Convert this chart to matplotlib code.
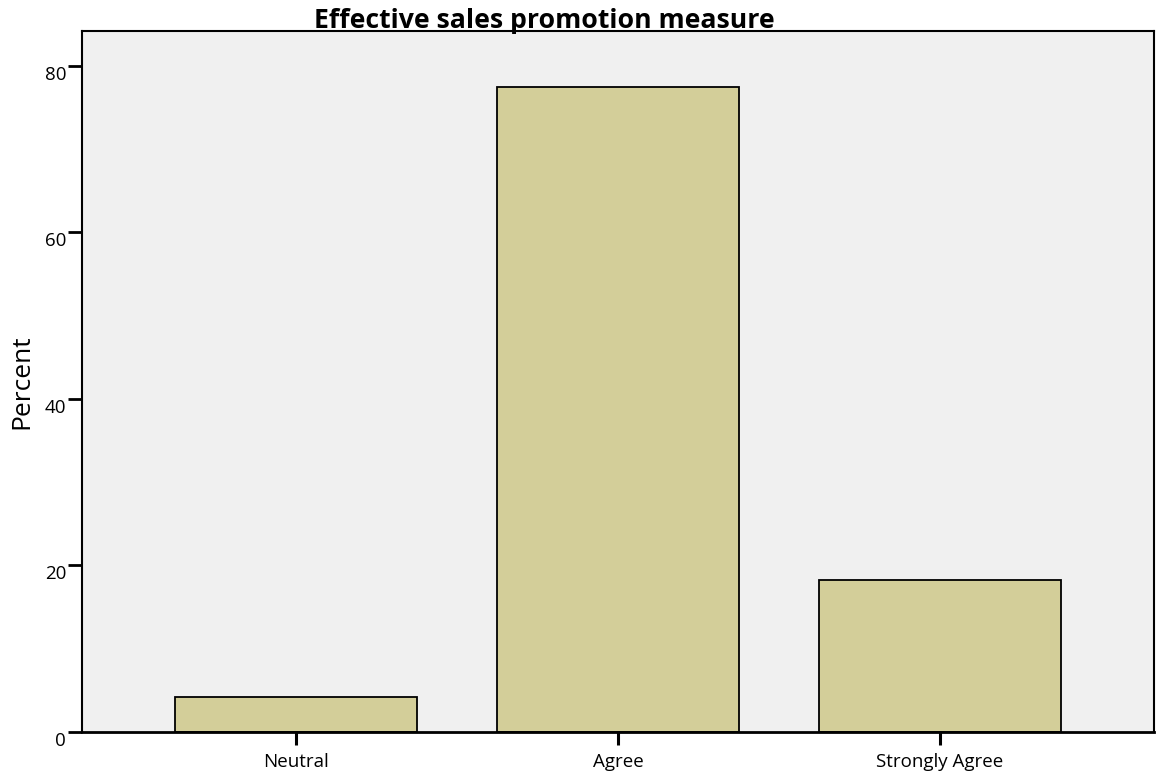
import matplotlib
matplotlib.use("Agg")
import matplotlib.pyplot as plt

plot_title = "Effective sales promotion measure"
y_label = "Percent"

categories = ["Neutral", "Agree", "Strongly Agree"]
percent = [4.2, 77.5, 18.3]
y_ticks = [0, 20, 40, 60, 80]

bar_color = "#D3CE99"
bg_color = "#F0F0F0"


def main():
    plt.rcParams['font.family'] = ['Open Sans', 'DejaVu Sans']

    fig = plt.figure(figsize=(11.56, 7.8), dpi=100)
    ax = fig.add_axes([82 / 1156, 48 / 780, 1072 / 1156, 701 / 780])
    ax.set_facecolor(bg_color)

    x = range(len(categories))
    ax.bar(x, percent, width=0.75, color=bar_color, edgecolor="black", linewidth=1.3, zorder=2)

    ax.set_xlim(-0.665, 2.665)
    ax.set_ylim(0, 84.2)

    ax.set_xticks(list(x))
    ax.set_xticklabels(categories, fontsize=13.5)
    ax.set_yticks(y_ticks)
    ax.set_yticklabels([str(t) for t in y_ticks], fontsize=13.5, va="top")

    ax.tick_params(axis="x", direction="out", length=9, width=2.2, pad=6)
    ax.tick_params(axis="y", direction="out", length=10, width=2, pad=1.5)

    for s in ax.spines.values():
        s.set_linewidth(1.5)
    ax.spines["bottom"].set_linewidth(2)

    ax.set_ylabel(y_label, fontsize=19, labelpad=7)
    fig.text(544 / 1156, 1 - 28 / 780, plot_title, ha="center", va="baseline",
             fontsize=19.2, fontweight="bold")

    fig.savefig("out.png", dpi=100)


if __name__ == '__main__':
    main()
